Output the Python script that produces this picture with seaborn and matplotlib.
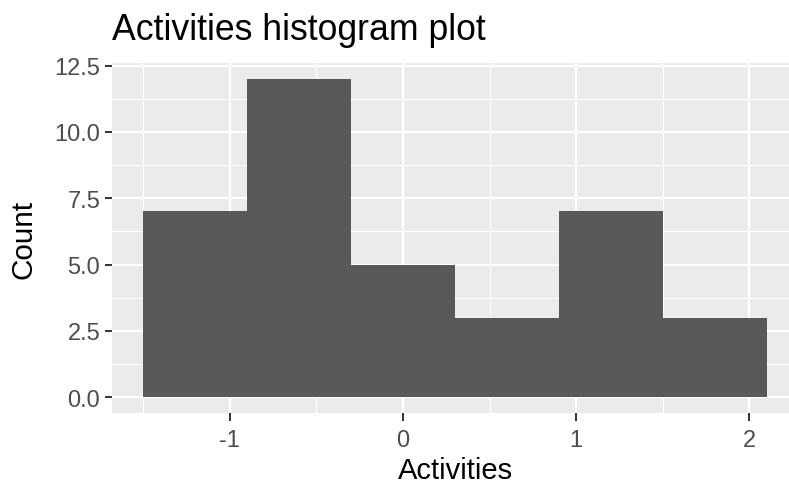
import numpy as np
import pandas as pd
import seaborn as sns
import matplotlib.pyplot as plt

# ===============================
# Data
# ===============================
bin_edges = [-1.5, -0.9, -0.3, 0.3, 0.9, 1.5, 2.1]
bin_counts = [7, 12, 5, 3, 7, 3]
x_ticks = [-1, 0, 1, 2]
x_minor = [-1.5, -0.5, 0.5, 1.5]
y_ticks = [0.0, 2.5, 5.0, 7.5, 10.0, 12.5]
y_minor = [1.25, 3.75, 6.25, 8.75, 11.25]

centers = (np.array(bin_edges[:-1]) + np.array(bin_edges[1:])) / 2
df = pd.DataFrame({"Activities": centers, "n": bin_counts})

# ===============================
# Style (ggplot2 theme_grey look)
# ===============================
sns.set_theme(style="darkgrid", rc={"axes.facecolor": "#EBEBEB", "grid.color": "white"})
plt.rcParams["font.family"] = ["Liberation Sans", "DejaVu Sans"]

fig = plt.figure(figsize=(7.89, 4.85), dpi=100)
ax = fig.add_axes([112 / 789, (485 - 414) / 485, (798 - 112) / 789, (414 - 64) / 485])

sns.histplot(
    data=df,
    x="Activities",
    weights="n",
    bins=bin_edges,
    color="#595959",
    alpha=1,
    edgecolor="none",
    linewidth=0,
    ax=ax,
)

ax.set_xlim(-1.68, 2.28)
ax.set_ylim(-0.6, 12.6)
ax.set_xticks(x_ticks)
ax.set_xticklabels([str(t) for t in x_ticks])
ax.set_yticks(y_ticks)
ax.set_yticklabels([f"{t:.1f}" for t in y_ticks])
ax.set_xticks(x_minor, minor=True)
ax.set_yticks(y_minor, minor=True)

ax.grid(which="major", color="white", linewidth=1.6)
ax.grid(which="minor", color="white", linewidth=0.8)
ax.set_axisbelow(True)
for s in ax.spines.values():
    s.set_visible(False)

ax.tick_params(which="major", length=5.4, width=1.4, color="#333333",
               labelsize=17, labelcolor="#4D4D4D", bottom=True, left=True)
ax.tick_params(axis="x", which="major", pad=6)
ax.tick_params(axis="y", which="major", pad=3)
ax.tick_params(which="minor", length=0)

ax.set_xlabel("Activities", fontsize=21, color="black", labelpad=3.5)
ax.set_ylabel("Count", fontsize=21.4, color="black", labelpad=12)
ax.set_title("Activities histogram plot", loc="left", fontsize=25.7, color="black", pad=17)

plt.savefig("out.png", dpi=100)
